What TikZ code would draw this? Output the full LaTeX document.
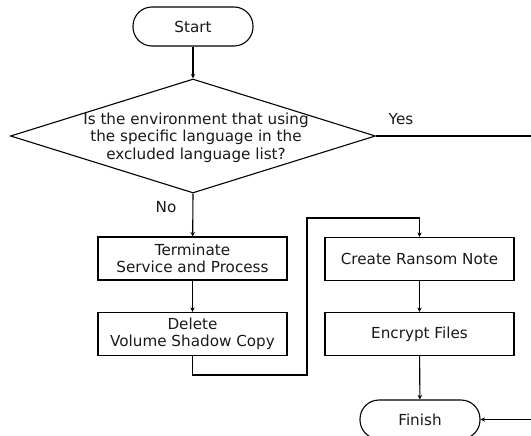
\documentclass[tikz,border=0pt]{standalone}
\usepackage{fontspec}
\setmainfont{DejaVu Sans}
\usetikzlibrary{shapes.geometric, arrows.meta}
\tikzset{every picture/.append style={x=1pt, y=-1pt}}
\tikzset{
    every node/.style={font=\fontsize{15.2}{17.5}\selectfont, text=black!90},
    terminal/.style={draw, rectangle, rounded corners=19pt, minimum width=120pt,
        minimum height=39pt, line width=1.1pt},
    process/.style={draw, rectangle, minimum width=189pt, minimum height=43pt,
        align=center, line width=1.1pt},
    decision/.style={draw, diamond, minimum width=365pt, minimum height=114pt,
        inner sep=0pt, line width=1.1pt},
    flow/.style={line width=1.1pt, -{Stealth[length=4.5pt, width=4.5pt]}}
}

\begin{document}
\begin{tikzpicture}
	\clip (0,0) rectangle (531,436);
	\node (start) [terminal] at (193, 26.5) {Start};
	\node (q) [decision] at (193, 136) {};
	\node (qtext) [align=center] at (196, 137.5) {Is the environment that using\\
		the specific language in the\\ excluded language list?};
	\node (term) [process] at (192.5, 258.5) {Terminate\\ Service and Process};
	\node (del) [process] at (192.5, 334) {Delete\\ Volume Shadow Copy};
	\node (note) [process] at (419.5, 259) {Create Ransom Note};
	\node (enc) [process] at (419.5, 334) {Encrypt Files};
	\node (finish) [terminal] at (420, 419.5) {Finish};
	\node (yes) at (401, 119) {Yes};
	\node (no) at (166, 207) {No};
	\coordinate (out) at (545, 136);
	
	\draw [flow] (start) -- (q.north);
	\draw [flow] (q.south) -- (term);
	\draw [flow] (term) -- (del);
	\draw [flow] (del.south) |- (307, 375) |- (419.5, 218) -- (note.north);
	\draw [flow] (note) -- (enc);
	\draw [flow] (enc) -- (finish);
	\draw [flow] (q.east) -- (out) |- (finish.east);
\end{tikzpicture}
\end{document}
